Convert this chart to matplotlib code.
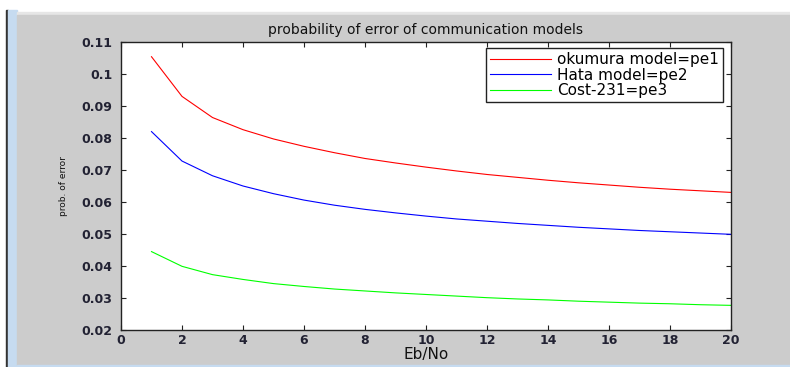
import matplotlib.pyplot as plt
import matplotlib.patches as mpatches
import numpy as np

# Eb/No values and probability of error
eb_no = list(range(1, 21))
pe1 = [0.1054, 0.0930, 0.0864, 0.0826, 0.0797, 0.0774, 0.0754, 0.0736, 0.0722, 0.0709,
       0.0697, 0.0686, 0.0677, 0.0668, 0.0660, 0.0653, 0.0646, 0.0640, 0.0635, 0.0630]
pe2 = [0.0820, 0.0728, 0.0682, 0.0650, 0.0626, 0.0606, 0.0590, 0.0577, 0.0566, 0.0556,
       0.0547, 0.0540, 0.0533, 0.0527, 0.0521, 0.0516, 0.0511, 0.0507, 0.0503, 0.0499]
pe3 = [0.0445, 0.0399, 0.0373, 0.0358, 0.0345, 0.0336, 0.0328, 0.0322, 0.0316, 0.0311,
       0.0306, 0.0301, 0.0297, 0.0294, 0.0290, 0.0287, 0.0284, 0.0282, 0.0279, 0.0277]
labels = ["okumura model=pe1", "Hata model=pe2", "Cost-231=pe3"]
colors = ["#ff0000", "#0000ff", "#00ff00"]

W, H = 790, 367
fig = plt.figure(figsize=(W / 100, H / 100), dpi=100)
fig.patch.set_facecolor("white")


def px_rect(x0, y0, x1, y1, color):
    # rectangle given in pixel coords, y measured from top
    fig.patches.append(mpatches.Rectangle((x0 / W, 1 - y1 / H), (x1 - x0) / W, (y1 - y0) / H,
                                          transform=fig.transFigure, color=color, zorder=-10))


# window frame around the figure
px_rect(6, 10, 8, H, "#333333")
px_rect(8, 10, 17, H, "#c6dbf0")
px_rect(17, 12, W, 15, "#e6e6e6")
px_rect(17, 15, W, 365, "#cccccc")
px_rect(17, 365, W, H, "#c6dbf0")

ax = fig.add_axes([121 / W, (H - 330) / H, 610 / W, 288 / H])
ax.set_facecolor("white")

for y, lab, c in zip([pe1, pe2, pe3], labels, colors):
    ax.plot(eb_no, y, color=c, lw=0.8, label=lab)

ax.set_xlim(0, 20)
ax.set_ylim(0.02, 0.11)
ax.set_xticks(np.arange(0, 21, 2))
ax.set_yticks(np.arange(0.02, 0.111, 0.01))
ax.set_yticklabels(["0.02", "0.03", "0.04", "0.05", "0.06", "0.07", "0.08", "0.09", "0.1", "0.11"])

ax.tick_params(direction="in", length=3.5, width=0.8, top=True, right=True,
               labelsize=9, colors="#222222", labelcolor="#222233")
ax.tick_params(axis="y", pad=6)
ax.tick_params(axis="x", pad=3)
for lbl in ax.get_xticklabels() + ax.get_yticklabels():
    lbl.set_fontweight("bold")
for s in ax.spines.values():
    s.set_linewidth(1.0)
    s.set_color("#222222")

ax.set_title("probability of error of communication models", fontsize=10, pad=6, color="#111111")
ax.set_xlabel("Eb/No", fontsize=11, labelpad=0, color="#111111")
ax.set_ylabel("prob. of error", fontsize=6.5, labelpad=10, color="#111111")

leg = ax.legend(loc="upper right", bbox_to_anchor=(0.987, 0.979), borderaxespad=0,
                fontsize=11, fancybox=False, handlelength=4.0, handletextpad=0.4,
                labelspacing=0.05, borderpad=0.25, framealpha=1)
leg.get_frame().set_edgecolor("#222222")
leg.get_frame().set_linewidth(1.0)

fig.savefig("out.png", dpi=100)
